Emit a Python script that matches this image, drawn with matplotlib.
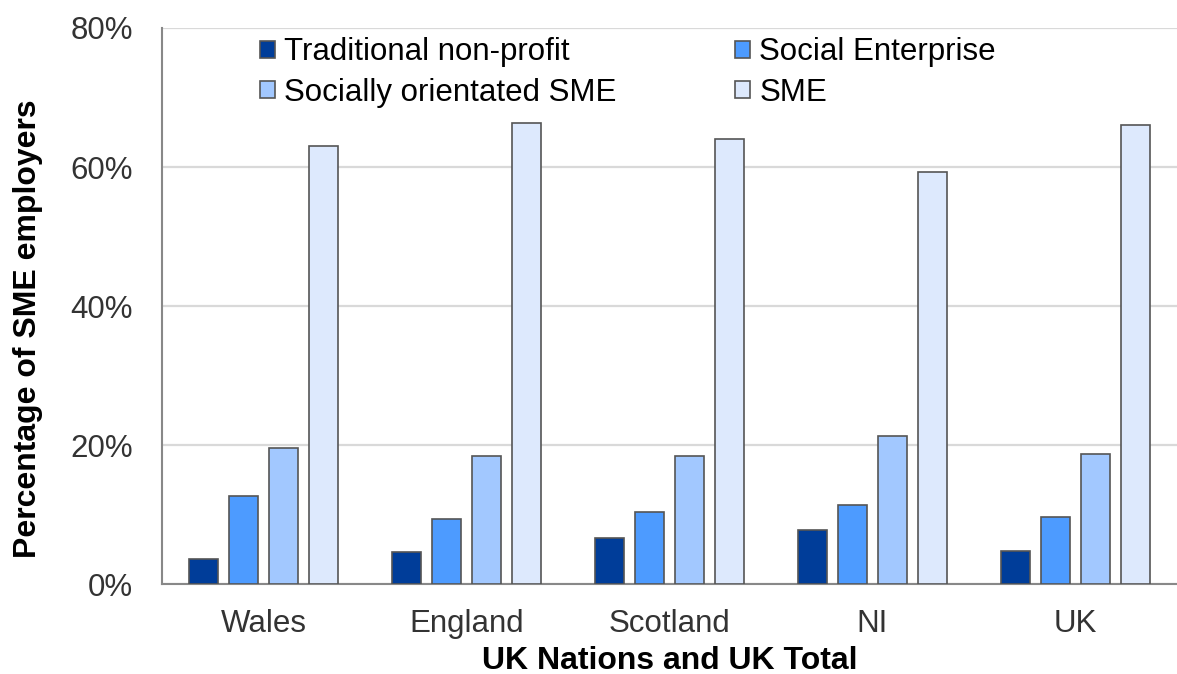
import numpy as np
import matplotlib
matplotlib.use("Agg")
import matplotlib.pyplot as plt
from matplotlib.ticker import FuncFormatter

# Data
nations = ["Wales", "England", "Scotland", "NI", "UK"]
series_names = ["Traditional non-profit", "Social Enterprise",
                "Socially orientated SME", "SME"]
traditional = [3.7, 4.7, 6.7, 7.8, 4.8]
social_ent = [12.7, 9.4, 10.4, 11.4, 9.7]
socially_sme = [19.6, 18.5, 18.4, 21.4, 18.8]
sme = [63.0, 66.4, 64.1, 59.3, 66.0]
colors = ["#003d99", "#4d9bff", "#a2c8ff", "#dde9fd"]

plt.rcParams["font.family"] = ["Liberation Sans", "DejaVu Sans"]

dpi = 100
fig = plt.figure(figsize=(1177 / dpi, 674 / dpi), dpi=dpi)
ax = fig.add_axes([0.1376, 0.133, 0.8624, 0.8255])

x = np.arange(len(nations))
step = 0.197
width = 0.143
bars = []
for i, (vals, col) in enumerate(zip([traditional, social_ent, socially_sme, sme], colors)):
    b = ax.bar(x + (i - 1.5) * step, vals, width, color=col,
               edgecolor="#555555", linewidth=1.2, label=series_names[i], zorder=3)
    bars.append(b)

ax.set_xlim(-0.5, len(nations) - 0.5)
ax.set_ylim(0, 80)
ax.set_yticks([0, 20, 40, 60, 80])
ax.yaxis.set_major_formatter(FuncFormatter(lambda v, p: f"{v:.0f}%"))
ax.set_xticks(x)
ax.set_xticklabels(nations)
ax.tick_params(axis="both", length=0, labelsize=22.5, labelcolor="#333333")
ax.tick_params(axis="y", pad=21)
ax.tick_params(axis="x", pad=17.5)
ax.yaxis.grid(True, color="#d9d9d9", linewidth=1.6, zorder=0)
ax.set_axisbelow(True)

for side in ["top", "right"]:
    ax.spines[side].set_visible(False)
for side in ["left", "bottom"]:
    ax.spines[side].set_color("#888888")
    ax.spines[side].set_linewidth(1.5)

ax.set_ylabel("Percentage of SME employers", fontsize=23, fontweight="bold")
ax.yaxis.set_label_coords(-0.117, 0.459)
ax.set_xlabel("UK Nations and UK Total", fontsize=23, fontweight="bold", labelpad=5)

# legend fills column-first, so reorder to read row by row
order = [0, 2, 1, 3]
leg = ax.legend([bars[k] for k in order], [series_names[k] for k in order],
                ncol=2, loc="upper left", bbox_to_anchor=(0.0966, 0.983),
                frameon=False, fontsize=22.5, handlelength=0.48, handleheight=0.48,
                handletextpad=0.29, columnspacing=3.8, labelspacing=0.33,
                borderpad=0, borderaxespad=0)

fig.savefig("out.png", dpi=dpi)
